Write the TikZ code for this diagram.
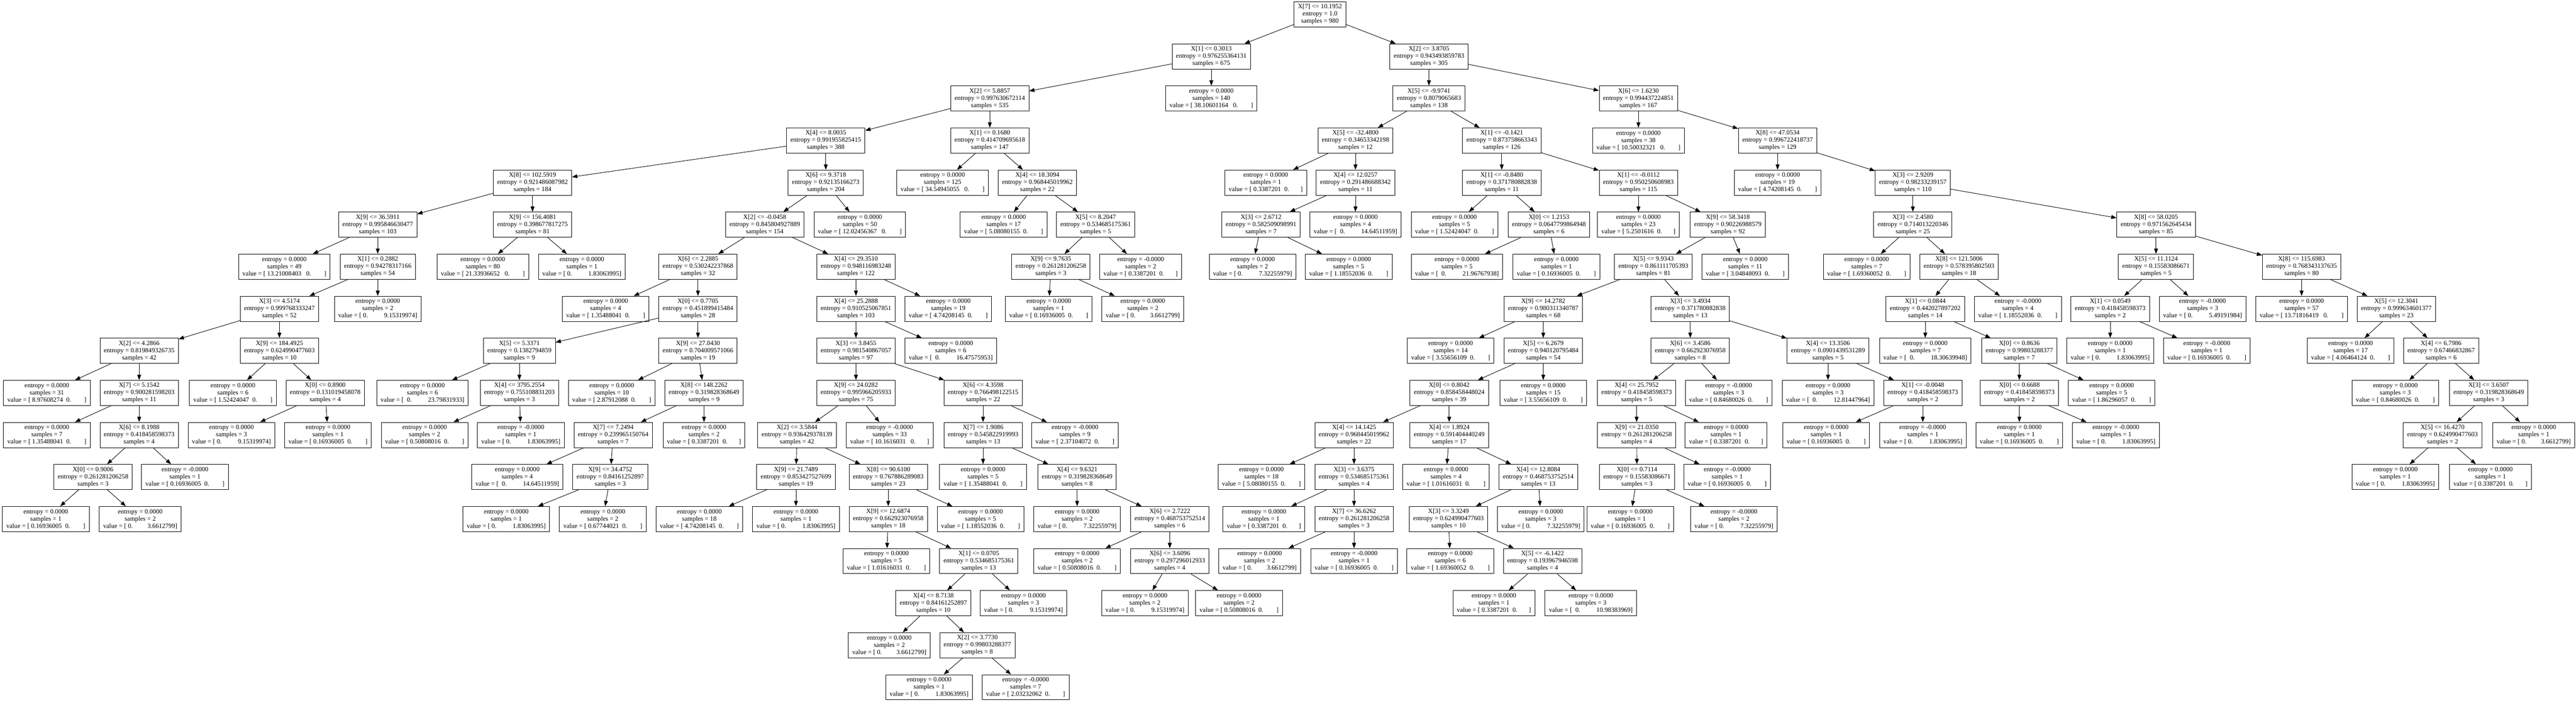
\documentclass[tikz,border=0pt]{standalone}
\usepackage{fontspec}
\setmainfont{Liberation Serif}
\usetikzlibrary{arrows.meta}

\begin{document}
\begin{tikzpicture}[>={Triangle[length=15pt,width=11pt]},x=100pt,y=118.5pt,line width=1.3pt,
cond/.style={rectangle, draw, align=center, inner xsep=11pt, inner ysep=0pt, minimum height=71pt, font=\fontsize{18.3}{20.3}\selectfont},
leaf/.style={cond}]

\useasboundingbox (0,0.342) rectangle (72.56,-16.367);

% split nodes
\draw (37.18,0) node[cond] (C0) {X[7] <= 10.1952\\ entropy = 1.0\\ samples = 980};
\draw (34.12,-1) node[cond] (C1) {X[1] <= 0.3013\\ entropy = 0.976255364131\\ samples = 675};
\draw (40.25,-1) node[cond] (C2) {X[2] <= 3.8705\\ entropy = 0.943493859783\\ samples = 305};
\draw (27.88,-2) node[cond] (C3) {X[2] <= 5.8857\\ entropy = 0.997630672114\\ samples = 535};
\draw (40.25,-2) node[cond] (C4) {X[5] <= -9.9741\\ entropy = 0.8079065683\\ samples = 138};
\draw (46.15,-2) node[cond] (C5) {X[6] <= 1.6230\\ entropy = 0.994437224851\\ samples = 167};
\draw (23.26,-3) node[cond] (C6) {X[4] <= 8.0035\\ entropy = 0.991955825415\\ samples = 388};
\draw (27.88,-3) node[cond] (C7) {X[1] <= 0.1680\\ entropy = 0.414709695618\\ samples = 147};
\draw (38.18,-3) node[cond] (C8) {X[5] <= -32.4800\\ entropy = 0.34653342198\\ samples = 12};
\draw (42.30,-3) node[cond] (C9) {X[1] <= -0.1421\\ entropy = 0.873758663343\\ samples = 126};
\draw (50.07,-3) node[cond] (C10) {X[8] <= 47.0534\\ entropy = 0.996722418737\\ samples = 129};
\draw (15.00,-4) node[cond] (C11) {X[8] <= 102.5919\\ entropy = 0.921486087982\\ samples = 184};
\draw (23.26,-4) node[cond] (C12) {X[6] <= 9.3718\\ entropy = 0.92135166273\\ samples = 204};
\draw (29.22,-4) node[cond] (C13) {X[4] <= 18.3094\\ entropy = 0.968445019962\\ samples = 22};
\draw (38.18,-4) node[cond] (C14) {X[4] <= 12.0257\\ entropy = 0.291486688342\\ samples = 11};
\draw (42.30,-4) node[cond] (C15) {X[1] <= -0.8480\\ entropy = 0.371780882838\\ samples = 11};
\draw (46.15,-4) node[cond] (C16) {X[1] <= -0.0112\\ entropy = 0.950250608983\\ samples = 115};
\draw (53.88,-4) node[cond] (C17) {X[3] <= 2.9209\\ entropy = 0.98233239157\\ samples = 110};
\draw (10.64,-5) node[cond] (C18) {X[9] <= 36.5911\\ entropy = 0.995846630477\\ samples = 103};
\draw (15.00,-5) node[cond] (C19) {X[9] <= 156.4081\\ entropy = 0.398677817275\\ samples = 81};
\draw (21.54,-5) node[cond] (C20) {X[2] <= -0.0458\\ entropy = 0.845804927889\\ samples = 154};
\draw (30.86,-5) node[cond] (C21) {X[5] <= 8.2047\\ entropy = 0.534685175361\\ samples = 5};
\draw (35.52,-5) node[cond] (C22) {X[3] <= 2.6712\\ entropy = 0.582509098991\\ samples = 7};
\draw (43.63,-5) node[cond] (C23) {X[0] <= 1.2153\\ entropy = 0.0647799864948\\ samples = 6};
\draw (48.67,-5) node[cond] (C24) {X[9] <= 58.3418\\ entropy = 0.90226988579\\ samples = 92};
\draw (53.88,-5) node[cond] (C25) {X[3] <= 2.4580\\ entropy = 0.714013220346\\ samples = 25};
\draw (60.73,-5) node[cond] (C26) {X[8] <= 58.0205\\ entropy = 0.971562645434\\ samples = 85};
\draw (10.64,-6) node[cond] (C27) {X[1] <= 0.2882\\ entropy = 0.94278317166\\ samples = 54};
\draw (19.66,-6) node[cond] (C28) {X[6] <= 2.2885\\ entropy = 0.530242237868\\ samples = 32};
\draw (24.11,-6) node[cond] (C29) {X[4] <= 29.3510\\ entropy = 0.948116983248\\ samples = 122};
\draw (29.60,-6) node[cond] (C30) {X[9] <= 9.7635\\ entropy = 0.261281206258\\ samples = 3};
\draw (46.57,-6) node[cond] (C31) {X[5] <= 9.9343\\ entropy = 0.861111705393\\ samples = 81};
\draw (55.18,-6) node[cond] (C32) {X[8] <= 121.5006\\ entropy = 0.578395802503\\ samples = 18};
\draw (60.73,-6) node[cond] (C33) {X[5] <= 11.1124\\ entropy = 0.15583086671\\ samples = 5};
\draw (64.83,-6) node[cond] (C34) {X[8] <= 115.6983\\ entropy = 0.768343137635\\ samples = 80};
\draw (7.87,-7) node[cond] (C35) {X[3] <= 4.5174\\ entropy = 0.999768333247\\ samples = 52};
\draw (19.66,-7) node[cond] (C36) {X[0] <= 0.7705\\ entropy = 0.451899415484\\ samples = 28};
\draw (24.11,-7) node[cond] (C37) {X[4] <= 25.2888\\ entropy = 0.910525067851\\ samples = 103};
\draw (43.47,-7) node[cond] (C38) {X[9] <= 14.2782\\ entropy = 0.980311340787\\ samples = 68};
\draw (47.61,-7) node[cond] (C39) {X[3] <= 3.4934\\ entropy = 0.371780882838\\ samples = 13};
\draw (54.23,-7) node[cond] (C40) {X[1] <= 0.0844\\ entropy = 0.442027897202\\ samples = 14};
\draw (59.44,-7) node[cond] (C41) {X[1] <= 0.0549\\ entropy = 0.418458598373\\ samples = 2};
\draw (67.50,-7) node[cond] (C42) {X[5] <= 12.3041\\ entropy = 0.999634601377\\ samples = 23};
\draw (3.92,-8) node[cond] (C43) {X[2] <= 4.2866\\ entropy = 0.819849326735\\ samples = 42};
\draw (7.87,-8) node[cond] (C44) {X[9] <= 184.4925\\ entropy = 0.624990477603\\ samples = 10};
\draw (14.63,-8) node[cond] (C45) {X[5] <= 5.3371\\ entropy = 0.1382794859\\ samples = 9};
\draw (19.66,-8) node[cond] (C46) {X[9] <= 27.0430\\ entropy = 0.704009571066\\ samples = 19};
\draw (24.11,-8) node[cond] (C47) {X[3] <= 3.8455\\ entropy = 0.981540867057\\ samples = 97};
\draw (43.47,-8) node[cond] (C48) {X[5] <= 6.2679\\ entropy = 0.940120795484\\ samples = 54};
\draw (47.61,-8) node[cond] (C49) {X[6] <= 3.4586\\ entropy = 0.662923076958\\ samples = 8};
\draw (51.49,-8) node[cond] (C50) {X[4] <= 13.3506\\ entropy = 0.0901439531289\\ samples = 5};
\draw (56.88,-8) node[cond] (C51) {X[0] <= 0.8636\\ entropy = 0.99803288377\\ samples = 7};
\draw (68.76,-8) node[cond] (C52) {X[4] <= 6.7986\\ entropy = 0.67466832867\\ samples = 6};
\draw (3.92,-9) node[cond] (C53) {X[7] <= 5.1542\\ entropy = 0.900281598203\\ samples = 11};
\draw (9.16,-9) node[cond] (C54) {X[0] <= 0.8900\\ entropy = 0.131019458078\\ samples = 4};
\draw (14.63,-9) node[cond] (C55) {X[4] <= 3795.2554\\ entropy = 0.755108831203\\ samples = 3};
\draw (19.83,-9) node[cond] (C56) {X[8] <= 148.2262\\ entropy = 0.319828368649\\ samples = 9};
\draw (24.11,-9) node[cond] (C57) {X[9] <= 24.0282\\ entropy = 0.995966205933\\ samples = 75};
\draw (27.69,-9) node[cond] (C58) {X[6] <= 4.3598\\ entropy = 0.766498122515\\ samples = 22};
\draw (40.82,-9) node[cond] (C59) {X[0] <= 0.8042\\ entropy = 0.858458448024\\ samples = 39};
\draw (46.10,-9) node[cond] (C60) {X[4] <= 25.7952\\ entropy = 0.418458598373\\ samples = 5};
\draw (54.16,-9) node[cond] (C61) {X[1] <= -0.0048\\ entropy = 0.418458598373\\ samples = 2};
\draw (56.88,-9) node[cond] (C62) {X[0] <= 0.6688\\ entropy = 0.418458598373\\ samples = 2};
\draw (70.10,-9) node[cond] (C63) {X[3] <= 3.6507\\ entropy = 0.319828368649\\ samples = 3};
\draw (3.92,-10) node[cond] (C64) {X[6] <= 8.1988\\ entropy = 0.418458598373\\ samples = 4};
\draw (17.27,-10) node[cond] (C65) {X[7] <= 7.2494\\ entropy = 0.239965150764\\ samples = 7};
\draw (22.45,-10) node[cond] (C66) {X[2] <= 3.5844\\ entropy = 0.936429378139\\ samples = 42};
\draw (27.69,-10) node[cond] (C67) {X[7] <= 1.9086\\ entropy = 0.545822919993\\ samples = 13};
\draw (38.14,-10) node[cond] (C68) {X[4] <= 14.1425\\ entropy = 0.968445019962\\ samples = 22};
\draw (40.82,-10) node[cond] (C69) {X[4] <= 1.8924\\ entropy = 0.591404440249\\ samples = 17};
\draw (46.10,-10) node[cond] (C70) {X[9] <= 21.0350\\ entropy = 0.261281206258\\ samples = 4};
\draw (68.80,-10) node[cond] (C71) {X[5] <= 16.4270\\ entropy = 0.624990477603\\ samples = 2};
\draw (2.62,-11) node[cond] (C72) {X[0] <= 0.9006\\ entropy = 0.261281206258\\ samples = 3};
\draw (17.19,-11) node[cond] (C73) {X[9] <= 34.4752\\ entropy = 0.84161252897\\ samples = 3};
\draw (22.42,-11) node[cond] (C74) {X[9] <= 21.7489\\ entropy = 0.853427527699\\ samples = 19};
\draw (25.02,-11) node[cond] (C75) {X[8] <= 90.6100\\ entropy = 0.767886289083\\ samples = 23};
\draw (30.34,-11) node[cond] (C76) {X[4] <= 9.6321\\ entropy = 0.319828368649\\ samples = 8};
\draw (38.14,-11) node[cond] (C77) {X[3] <= 3.6375\\ entropy = 0.534685175361\\ samples = 4};
\draw (43.33,-11) node[cond] (C78) {X[4] <= 12.8084\\ entropy = 0.468753752514\\ samples = 13};
\draw (46.11,-11) node[cond] (C79) {X[0] <= 0.7114\\ entropy = 0.15583086671\\ samples = 3};
\draw (25.02,-12) node[cond] (C80) {X[9] <= 12.6874\\ entropy = 0.662923076958\\ samples = 18};
\draw (32.95,-12) node[cond] (C81) {X[6] <= 2.7222\\ entropy = 0.468753752514\\ samples = 6};
\draw (38.14,-12) node[cond] (C82) {X[7] <= 36.6262\\ entropy = 0.261281206258\\ samples = 3};
\draw (40.80,-12) node[cond] (C83) {X[3] <= 3.3249\\ entropy = 0.624990477603\\ samples = 10};
\draw (27.57,-13) node[cond] (C84) {X[1] <= 0.0705\\ entropy = 0.534685175361\\ samples = 13};
\draw (32.95,-13) node[cond] (C85) {X[6] <= 3.6096\\ entropy = 0.297296012933\\ samples = 4};
\draw (43.45,-13) node[cond] (C86) {X[5] <= -6.1422\\ entropy = 0.193967946598\\ samples = 4};
\draw (26.29,-14) node[cond] (C87) {X[4] <= 8.7138\\ entropy = 0.84161252897\\ samples = 10};
\draw (27.53,-15) node[cond] (C88) {X[2] <= 3.7730\\ entropy = 0.99803288377\\ samples = 8};

% leaves
\draw (34.12,-2) node[leaf] (F1) {entropy = 0.0000\\ samples = 140\\ value = [~38.10601164~~~0.~~~~~~~~]};
\draw (26.55,-4) node[leaf] (F2) {entropy = 0.0000\\ samples = 125\\ value = [~34.54945055~~~0.~~~~~~~~]};
\draw (35.65,-4) node[leaf] (F3) {entropy = 0.0000\\ samples = 1\\ value = [~0.3387201~~0.~~~~~~~]};
\draw (46.15,-3) node[leaf] (F4) {entropy = 0.0000\\ samples = 38\\ value = [~10.50032321~~~0.~~~~~~~~]};
\draw (50.07,-4) node[leaf] (F5) {entropy = 0.0000\\ samples = 19\\ value = [~4.74208145~~0.~~~~~~~~]};
\draw (24.22,-5) node[leaf] (F6) {entropy = 0.0000\\ samples = 50\\ value = [~12.02456367~~~0.~~~~~~~~]};
\draw (28.27,-5) node[leaf] (F7) {entropy = 0.0000\\ samples = 17\\ value = [~5.08080155~~0.~~~~~~~~]};
\draw (38.18,-5) node[leaf] (F8) {entropy = 0.0000\\ samples = 4\\ value = [~~0.~~~~~~~~~~14.64511959]};
\draw (40.97,-5) node[leaf] (F9) {entropy = 0.0000\\ samples = 5\\ value = [~1.52424047~~0.~~~~~~~~]};
\draw (46.15,-5) node[leaf] (F10) {entropy = 0.0000\\ samples = 23\\ value = [~5.2501616~~0.~~~~~~~]};
\draw (8.01,-6) node[leaf] (F11) {entropy = 0.0000\\ samples = 49\\ value = [~13.21008403~~~0.~~~~~~~~]};
\draw (13.60,-6) node[leaf] (F12) {entropy = 0.0000\\ samples = 80\\ value = [~21.33936652~~~0.~~~~~~~~]};
\draw (16.39,-6) node[leaf] (F13) {entropy = 0.0000\\ samples = 1\\ value = [~0.~~~~~~~~~~1.83063995]};
\draw (32.13,-6) node[leaf] (F14) {entropy = -0.0000\\ samples = 2\\ value = [~0.3387201~~0.~~~~~~~]};
\draw (35.28,-6) node[leaf] (F15) {entropy = 0.0000\\ samples = 2\\ value = [~0.~~~~~~~~~~7.32255979]};
\draw (37.99,-6) node[leaf] (F16) {entropy = 0.0000\\ samples = 5\\ value = [~1.18552036~~0.~~~~~~~~]};
\draw (41.04,-6) node[leaf] (F17) {entropy = 0.0000\\ samples = 5\\ value = [~~0.~~~~~~~~~~21.96767938]};
\draw (43.84,-6) node[leaf] (F18) {entropy = 0.0000\\ samples = 1\\ value = [~0.16936005~~0.~~~~~~~~]};
\draw (49.16,-6) node[leaf] (F19) {entropy = 0.0000\\ samples = 11\\ value = [~3.04848093~~0.~~~~~~~~]};
\draw (52.58,-6) node[leaf] (F20) {entropy = 0.0000\\ samples = 7\\ value = [~1.69360052~~0.~~~~~~~~]};
\draw (10.64,-7) node[leaf] (F21) {entropy = 0.0000\\ samples = 2\\ value = [~0.~~~~~~~~~~9.15319974]};
\draw (17.06,-7) node[leaf] (F22) {entropy = 0.0000\\ samples = 4\\ value = [~1.35488041~~0.~~~~~~~~]};
\draw (26.71,-7) node[leaf] (F23) {entropy = 0.0000\\ samples = 19\\ value = [~4.74208145~~0.~~~~~~~~]};
\draw (29.54,-7) node[leaf] (F24) {entropy = 0.0000\\ samples = 1\\ value = [~0.16936005~~0.~~~~~~~~]};
\draw (32.19,-7) node[leaf] (F25) {entropy = 0.0000\\ samples = 2\\ value = [~0.~~~~~~~~~3.6612799]};
\draw (56.84,-7) node[leaf] (F26) {entropy = -0.0000\\ samples = 4\\ value = [~1.18552036~~0.~~~~~~~~]};
\draw (62.04,-7) node[leaf] (F27) {entropy = -0.0000\\ samples = 3\\ value = [~0.~~~~~~~~~~5.49191984]};
\draw (64.83,-7) node[leaf] (F28) {entropy = 0.0000\\ samples = 57\\ value = [~13.71816419~~~0.~~~~~~~~]};
\draw (26.78,-8) node[leaf] (F29) {entropy = 0.0000\\ samples = 6\\ value = [~~0.~~~~~~~~~~16.47575953]};
\draw (40.86,-8) node[leaf] (F30) {entropy = 0.0000\\ samples = 14\\ value = [~3.55656109~~0.~~~~~~~~]};
\draw (54.23,-8) node[leaf] (F31) {entropy = 0.0000\\ samples = 7\\ value = [~~0.~~~~~~~~~~18.30639948]};
\draw (59.44,-8) node[leaf] (F32) {entropy = 0.0000\\ samples = 1\\ value = [~0.~~~~~~~~~~1.83063995]};
\draw (62.16,-8) node[leaf] (F33) {entropy = -0.0000\\ samples = 1\\ value = [~0.16936005~~0.~~~~~~~~]};
\draw (66.21,-8) node[leaf] (F34) {entropy = 0.0000\\ samples = 17\\ value = [~4.06464124~~0.~~~~~~~~]};
\draw (1.32,-9) node[leaf] (F35) {entropy = 0.0000\\ samples = 31\\ value = [~8.97608274~~0.~~~~~~~~]};
\draw (6.56,-9) node[leaf] (F36) {entropy = 0.0000\\ samples = 6\\ value = [~1.52424047~~0.~~~~~~~~]};
\draw (11.90,-9) node[leaf] (F37) {entropy = 0.0000\\ samples = 6\\ value = [~~0.~~~~~~~~~~23.79831933]};
\draw (17.23,-9) node[leaf] (F38) {entropy = 0.0000\\ samples = 10\\ value = [~2.87912088~~0.~~~~~~~~]};
\draw (43.47,-9) node[leaf] (F39) {entropy = 0.0000\\ samples = 15\\ value = [~3.55656109~~0.~~~~~~~~]};
\draw (48.69,-9) node[leaf] (F40) {entropy = -0.0000\\ samples = 3\\ value = [~0.84680026~~0.~~~~~~~~]};
\draw (51.49,-9) node[leaf] (F41) {entropy = 0.0000\\ samples = 3\\ value = [~~0.~~~~~~~~~~12.81447964]};
\draw (59.48,-9) node[leaf] (F42) {entropy = 0.0000\\ samples = 5\\ value = [~1.86296057~~0.~~~~~~~~]};
\draw (67.47,-9) node[leaf] (F43) {entropy = 0.0000\\ samples = 3\\ value = [~0.84680026~~0.~~~~~~~~]};
\draw (1.32,-10) node[leaf] (F44) {entropy = 0.0000\\ samples = 7\\ value = [~1.35488041~~0.~~~~~~~~]};
\draw (6.52,-10) node[leaf] (F45) {entropy = 0.0000\\ samples = 3\\ value = [~0.~~~~~~~~~~9.15319974]};
\draw (9.24,-10) node[leaf] (F46) {entropy = 0.0000\\ samples = 1\\ value = [~0.16936005~~0.~~~~~~~~]};
\draw (11.96,-10) node[leaf] (F47) {entropy = 0.0000\\ samples = 2\\ value = [~0.50808016~~0.~~~~~~~~]};
\draw (14.67,-10) node[leaf] (F48) {entropy = -0.0000\\ samples = 1\\ value = [~0.~~~~~~~~~~1.83063995]};
\draw (19.83,-10) node[leaf] (F49) {entropy = 0.0000\\ samples = 2\\ value = [~0.3387201~~0.~~~~~~~]};
\draw (25.06,-10) node[leaf] (F50) {entropy = -0.0000\\ samples = 33\\ value = [~10.1616031~~~0.~~~~~~~]};
\draw (30.28,-10) node[leaf] (F51) {entropy = -0.0000\\ samples = 9\\ value = [~2.37104072~~0.~~~~~~~~]};
\draw (48.62,-10) node[leaf] (F52) {entropy = 0.0000\\ samples = 1\\ value = [~0.3387201~~0.~~~~~~~]};
\draw (51.44,-10) node[leaf] (F53) {entropy = 0.0000\\ samples = 1\\ value = [~0.16936005~~0.~~~~~~~~]};
\draw (54.16,-10) node[leaf] (F54) {entropy = -0.0000\\ samples = 1\\ value = [~0.~~~~~~~~~~1.83063995]};
\draw (56.88,-10) node[leaf] (F55) {entropy = 0.0000\\ samples = 1\\ value = [~0.16936005~~0.~~~~~~~~]};
\draw (59.60,-10) node[leaf] (F56) {entropy = -0.0000\\ samples = 1\\ value = [~0.~~~~~~~~~~1.83063995]};
\draw (71.37,-10) node[leaf] (F57) {entropy = 0.0000\\ samples = 1\\ value = [~0.~~~~~~~~~3.6612799]};
\draw (5.21,-11) node[leaf] (F58) {entropy = -0.0000\\ samples = 1\\ value = [~0.16936005~~0.~~~~~~~~]};
\draw (14.57,-11) node[leaf] (F59) {entropy = 0.0000\\ samples = 4\\ value = [~~0.~~~~~~~~~~14.64511959]};
\draw (27.69,-11) node[leaf] (F60) {entropy = 0.0000\\ samples = 5\\ value = [~1.35488041~~0.~~~~~~~~]};
\draw (35.53,-11) node[leaf] (F61) {entropy = 0.0000\\ samples = 18\\ value = [~5.08080155~~0.~~~~~~~~]};
\draw (40.73,-11) node[leaf] (F62) {entropy = 0.0000\\ samples = 4\\ value = [~1.01616031~~0.~~~~~~~~]};
\draw (48.65,-11) node[leaf] (F63) {entropy = -0.0000\\ samples = 1\\ value = [~0.16936005~~0.~~~~~~~~]};
\draw (67.47,-11) node[leaf] (F64) {entropy = 0.0000\\ samples = 1\\ value = [~0.~~~~~~~~~~1.83063995]};
\draw (70.15,-11) node[leaf] (F65) {entropy = 0.0000\\ samples = 1\\ value = [~0.3387201~~0.~~~~~~~]};
\draw (1.29,-12) node[leaf] (F66) {entropy = 0.0000\\ samples = 1\\ value = [~0.16936005~~0.~~~~~~~~]};
\draw (3.95,-12) node[leaf] (F67) {entropy = 0.0000\\ samples = 2\\ value = [~0.~~~~~~~~~3.6612799]};
\draw (14.26,-12) node[leaf] (F68) {entropy = 0.0000\\ samples = 1\\ value = [~0.~~~~~~~~~~1.83063995]};
\draw (16.98,-12) node[leaf] (F69) {entropy = 0.0000\\ samples = 2\\ value = [~0.67744021~~0.~~~~~~~~]};
\draw (19.70,-12) node[leaf] (F70) {entropy = 0.0000\\ samples = 18\\ value = [~4.74208145~~0.~~~~~~~~]};
\draw (22.42,-12) node[leaf] (F71) {entropy = 0.0000\\ samples = 1\\ value = [~0.~~~~~~~~~~1.83063995]};
\draw (27.62,-12) node[leaf] (F72) {entropy = 0.0000\\ samples = 5\\ value = [~1.18552036~~0.~~~~~~~~]};
\draw (30.34,-12) node[leaf] (F73) {entropy = 0.0000\\ samples = 2\\ value = [~0.~~~~~~~~~~7.32255979]};
\draw (35.60,-12) node[leaf] (F74) {entropy = 0.0000\\ samples = 1\\ value = [~0.3387201~~0.~~~~~~~]};
\draw (43.40,-12) node[leaf] (F75) {entropy = 0.0000\\ samples = 3\\ value = [~0.~~~~~~~~~~7.32255979]};
\draw (45.92,-12) node[leaf] (F76) {entropy = 0.0000\\ samples = 1\\ value = [~0.16936005~~0.~~~~~~~~]};
\draw (48.84,-12) node[leaf] (F77) {entropy = -0.0000\\ samples = 2\\ value = [~0.~~~~~~~~~~7.32255979]};
\draw (24.97,-13) node[leaf] (F78) {entropy = 0.0000\\ samples = 5\\ value = [~1.01616031~~0.~~~~~~~~]};
\draw (30.34,-13) node[leaf] (F79) {entropy = 0.0000\\ samples = 2\\ value = [~0.50808016~~0.~~~~~~~~]};
\draw (35.48,-13) node[leaf] (F80) {entropy = 0.0000\\ samples = 2\\ value = [~0.~~~~~~~~~3.6612799]};
\draw (38.14,-13) node[leaf] (F81) {entropy = -0.0000\\ samples = 1\\ value = [~0.16936005~~0.~~~~~~~~]};
\draw (40.85,-13) node[leaf] (F82) {entropy = 0.0000\\ samples = 6\\ value = [~1.69360052~~0.~~~~~~~~]};
\draw (28.83,-14) node[leaf] (F83) {entropy = 0.0000\\ samples = 3\\ value = [~0.~~~~~~~~~~9.15319974]};
\draw (32.25,-14) node[leaf] (F84) {entropy = 0.0000\\ samples = 2\\ value = [~0.~~~~~~~~~~9.15319974]};
\draw (34.90,-14) node[leaf] (F85) {entropy = 0.0000\\ samples = 2\\ value = [~0.50808016~~0.~~~~~~~~]};
\draw (42.08,-14) node[leaf] (F86) {entropy = 0.0000\\ samples = 1\\ value = [~0.3387201~~0.~~~~~~~]};
\draw (44.81,-14) node[leaf] (F87) {entropy = 0.0000\\ samples = 3\\ value = [~~0.~~~~~~~~~~10.98383969]};
\draw (25.05,-15) node[leaf] (F88) {entropy = 0.0000\\ samples = 2\\ value = [~0.~~~~~~~~~3.6612799]};
\draw (26.17,-16) node[leaf] (F89) {entropy = 0.0000\\ samples = 1\\ value = [~0.~~~~~~~~~~1.83063995]};
\draw (28.89,-16) node[leaf] (F90) {entropy = -0.0000\\ samples = 7\\ value = [~2.03232062~~0.~~~~~~~~]};

% edges
\draw[->] (C0)--(C1);
\draw[->] (C0)--(C2);
\draw[->] (C1)--(C3);
\draw[->] (C1)--(F1);
\draw[->] (C2)--(C4);
\draw[->] (C2)--(C5);
\draw[->] (C3)--(C6);
\draw[->] (C3)--(C7);
\draw[->] (C4)--(C8);
\draw[->] (C4)--(C9);
\draw[->] (C5)--(F4);
\draw[->] (C5)--(C10);
\draw[->] (C6)--(C11);
\draw[->] (C6)--(C12);
\draw[->] (C7)--(F2);
\draw[->] (C7)--(C13);
\draw[->] (C8)--(F3);
\draw[->] (C8)--(C14);
\draw[->] (C9)--(C15);
\draw[->] (C9)--(C16);
\draw[->] (C10)--(F5);
\draw[->] (C10)--(C17);
\draw[->] (C11)--(C18);
\draw[->] (C11)--(C19);
\draw[->] (C12)--(C20);
\draw[->] (C12)--(F6);
\draw[->] (C13)--(F7);
\draw[->] (C13)--(C21);
\draw[->] (C14)--(C22);
\draw[->] (C14)--(F8);
\draw[->] (C15)--(F9);
\draw[->] (C15)--(C23);
\draw[->] (C16)--(F10);
\draw[->] (C16)--(C24);
\draw[->] (C17)--(C25);
\draw[->] (C17)--(C26);
\draw[->] (C18)--(F11);
\draw[->] (C18)--(C27);
\draw[->] (C19)--(F12);
\draw[->] (C19)--(F13);
\draw[->] (C20)--(C28);
\draw[->] (C20)--(C29);
\draw[->] (C21)--(C30);
\draw[->] (C21)--(F14);
\draw[->] (C22)--(F15);
\draw[->] (C22)--(F16);
\draw[->] (C23)--(F17);
\draw[->] (C23)--(F18);
\draw[->] (C24)--(C31);
\draw[->] (C24)--(F19);
\draw[->] (C25)--(F20);
\draw[->] (C25)--(C32);
\draw[->] (C26)--(C33);
\draw[->] (C26)--(C34);
\draw[->] (C27)--(C35);
\draw[->] (C27)--(F21);
\draw[->] (C28)--(F22);
\draw[->] (C28)--(C36);
\draw[->] (C29)--(C37);
\draw[->] (C29)--(F23);
\draw[->] (C30)--(F24);
\draw[->] (C30)--(F25);
\draw[->] (C31)--(C38);
\draw[->] (C31)--(C39);
\draw[->] (C32)--(C40);
\draw[->] (C32)--(F26);
\draw[->] (C33)--(C41);
\draw[->] (C33)--(F27);
\draw[->] (C34)--(F28);
\draw[->] (C34)--(C42);
\draw[->] (C35)--(C43);
\draw[->] (C35)--(C44);
\draw[->] (C36)--(C45);
\draw[->] (C36)--(C46);
\draw[->] (C37)--(C47);
\draw[->] (C37)--(F29);
\draw[->] (C38)--(F30);
\draw[->] (C38)--(C48);
\draw[->] (C39)--(C49);
\draw[->] (C39)--(C50);
\draw[->] (C40)--(F31);
\draw[->] (C40)--(C51);
\draw[->] (C41)--(F32);
\draw[->] (C41)--(F33);
\draw[->] (C42)--(F34);
\draw[->] (C42)--(C52);
\draw[->] (C43)--(F35);
\draw[->] (C43)--(C53);
\draw[->] (C44)--(F36);
\draw[->] (C44)--(C54);
\draw[->] (C45)--(F37);
\draw[->] (C45)--(C55);
\draw[->] (C46)--(F38);
\draw[->] (C46)--(C56);
\draw[->] (C47)--(C57);
\draw[->] (C47)--(C58);
\draw[->] (C48)--(C59);
\draw[->] (C48)--(F39);
\draw[->] (C49)--(C60);
\draw[->] (C49)--(F40);
\draw[->] (C50)--(F41);
\draw[->] (C50)--(C61);
\draw[->] (C51)--(C62);
\draw[->] (C51)--(F42);
\draw[->] (C52)--(F43);
\draw[->] (C52)--(C63);
\draw[->] (C53)--(F44);
\draw[->] (C53)--(C64);
\draw[->] (C54)--(F45);
\draw[->] (C54)--(F46);
\draw[->] (C55)--(F47);
\draw[->] (C55)--(F48);
\draw[->] (C56)--(C65);
\draw[->] (C56)--(F49);
\draw[->] (C57)--(C66);
\draw[->] (C57)--(F50);
\draw[->] (C58)--(C67);
\draw[->] (C58)--(F51);
\draw[->] (C59)--(C68);
\draw[->] (C59)--(C69);
\draw[->] (C60)--(C70);
\draw[->] (C60)--(F52);
\draw[->] (C61)--(F53);
\draw[->] (C61)--(F54);
\draw[->] (C62)--(F55);
\draw[->] (C62)--(F56);
\draw[->] (C63)--(C71);
\draw[->] (C63)--(F57);
\draw[->] (C64)--(C72);
\draw[->] (C64)--(F58);
\draw[->] (C65)--(F59);
\draw[->] (C65)--(C73);
\draw[->] (C66)--(C74);
\draw[->] (C66)--(C75);
\draw[->] (C67)--(F60);
\draw[->] (C67)--(C76);
\draw[->] (C68)--(F61);
\draw[->] (C68)--(C77);
\draw[->] (C69)--(F62);
\draw[->] (C69)--(C78);
\draw[->] (C70)--(C79);
\draw[->] (C70)--(F63);
\draw[->] (C71)--(F64);
\draw[->] (C71)--(F65);
\draw[->] (C72)--(F66);
\draw[->] (C72)--(F67);
\draw[->] (C73)--(F68);
\draw[->] (C73)--(F69);
\draw[->] (C74)--(F70);
\draw[->] (C74)--(F71);
\draw[->] (C75)--(C80);
\draw[->] (C75)--(F72);
\draw[->] (C76)--(F73);
\draw[->] (C76)--(C81);
\draw[->] (C77)--(F74);
\draw[->] (C77)--(C82);
\draw[->] (C78)--(C83);
\draw[->] (C78)--(F75);
\draw[->] (C79)--(F76);
\draw[->] (C79)--(F77);
\draw[->] (C80)--(F78);
\draw[->] (C80)--(C84);
\draw[->] (C81)--(F79);
\draw[->] (C81)--(C85);
\draw[->] (C82)--(F80);
\draw[->] (C82)--(F81);
\draw[->] (C83)--(F82);
\draw[->] (C83)--(C86);
\draw[->] (C84)--(C87);
\draw[->] (C84)--(F83);
\draw[->] (C85)--(F84);
\draw[->] (C85)--(F85);
\draw[->] (C86)--(F86);
\draw[->] (C86)--(F87);
\draw[->] (C87)--(F88);
\draw[->] (C87)--(C88);
\draw[->] (C88)--(F89);
\draw[->] (C88)--(F90);

\end{tikzpicture}
\end{document}
